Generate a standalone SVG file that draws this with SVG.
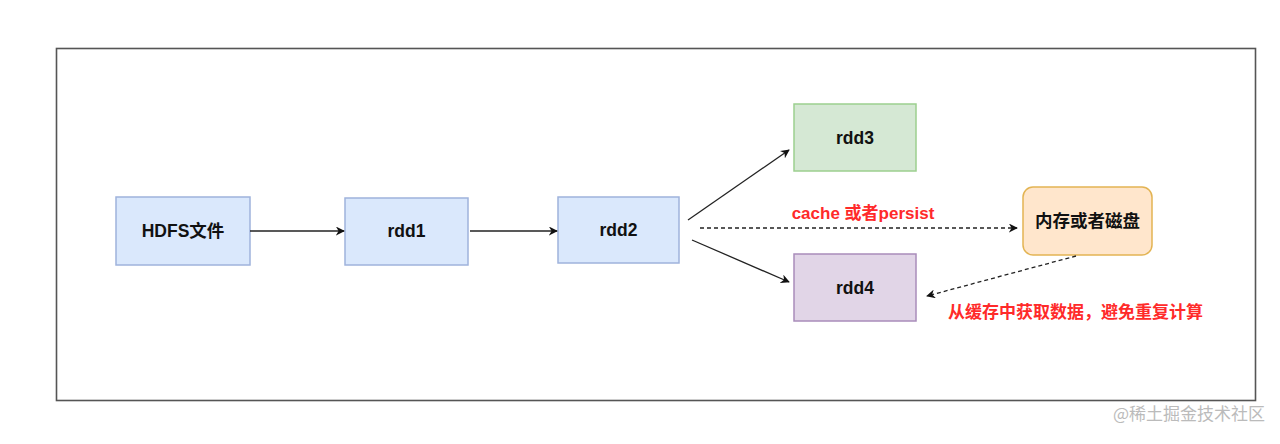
<svg xmlns="http://www.w3.org/2000/svg" width="1280" height="444" viewBox="0 0 1280 444">
<style>
.n{font-family:"Liberation Sans","Noto Sans CJK SC",sans-serif;font-weight:bold;font-size:17.5px;fill:#111;text-anchor:middle;dominant-baseline:central}
.lbl{font-family:"Liberation Sans","Noto Sans CJK SC",sans-serif;font-weight:bold;font-size:17px;fill:#ff2a2a}
.e{stroke:#222;stroke-width:1.3;fill:none}
.d{stroke-dasharray:4 3}
.blue{fill:#dae8fc;stroke:#9fb3dc;stroke-width:1.5}
</style>
<defs>
<marker id="a" viewBox="0 0 10 10" refX="9" refY="5" markerWidth="9" markerHeight="9" markerUnits="userSpaceOnUse" orient="auto">
<path d="M0,0 L10,5 L0,10 L3,5 Z" fill="#111"/>
</marker>
</defs>
<rect width="1280" height="444" fill="#fff"/>
<rect x="56.5" y="48.5" width="1199" height="352" fill="#fff" stroke="#555" stroke-width="1.6"/>
<g id="hdfs"><rect class="blue" x="116" y="197" width="134" height="68"/><text class="n" x="183" y="231">HDFS文件</text></g>
<g id="rdd1"><rect class="blue" x="345" y="198" width="123" height="67"/><text class="n" x="406.5" y="231">rdd1</text></g>
<g id="rdd2"><rect class="blue" x="558" y="197" width="121" height="66"/><text class="n" x="618.5" y="230">rdd2</text></g>
<g id="rdd3"><rect x="794" y="104" width="122" height="67" fill="#d5e8d4" stroke="#9ccf8f" stroke-width="1.5"/><text class="n" x="855" y="137.5">rdd3</text></g>
<g id="rdd4"><rect x="794" y="254" width="122" height="67" fill="#e1d5e7" stroke="#a98cba" stroke-width="1.5"/><text class="n" x="855" y="287.5">rdd4</text></g>
<g id="store"><rect x="1023" y="187" width="129" height="68" rx="10" fill="#ffe6cc" stroke="#e3b453" stroke-width="1.5"/><text class="n" x="1087.5" y="221">内存或者磁盘</text></g>
<g id="edges">
<line class="e" x1="250" y1="231" x2="344" y2="231" marker-end="url(#a)"/>
<line class="e" x1="470" y1="231" x2="557" y2="231" marker-end="url(#a)"/>
<line class="e" x1="688" y1="220" x2="789" y2="150" marker-end="url(#a)"/>
<line class="e" x1="692" y1="240" x2="789" y2="282" marker-end="url(#a)"/>
<line class="e d" x1="700" y1="228" x2="1017" y2="228" marker-end="url(#a)"/>
<line class="e d" x1="1076" y1="256" x2="927" y2="296" marker-end="url(#a)"/>
<text class="lbl" x="863" y="219" text-anchor="middle" font-size="18">cache 或者persist</text>
<text class="lbl" x="948" y="318">从缓存中获取数据，避免重复计算</text>
</g>
<text x="1265" y="420" text-anchor="end" font-family="'Noto Sans CJK SC',sans-serif" font-size="17" fill="#bbb">@稀土掘金技术社区</text>
</svg>
